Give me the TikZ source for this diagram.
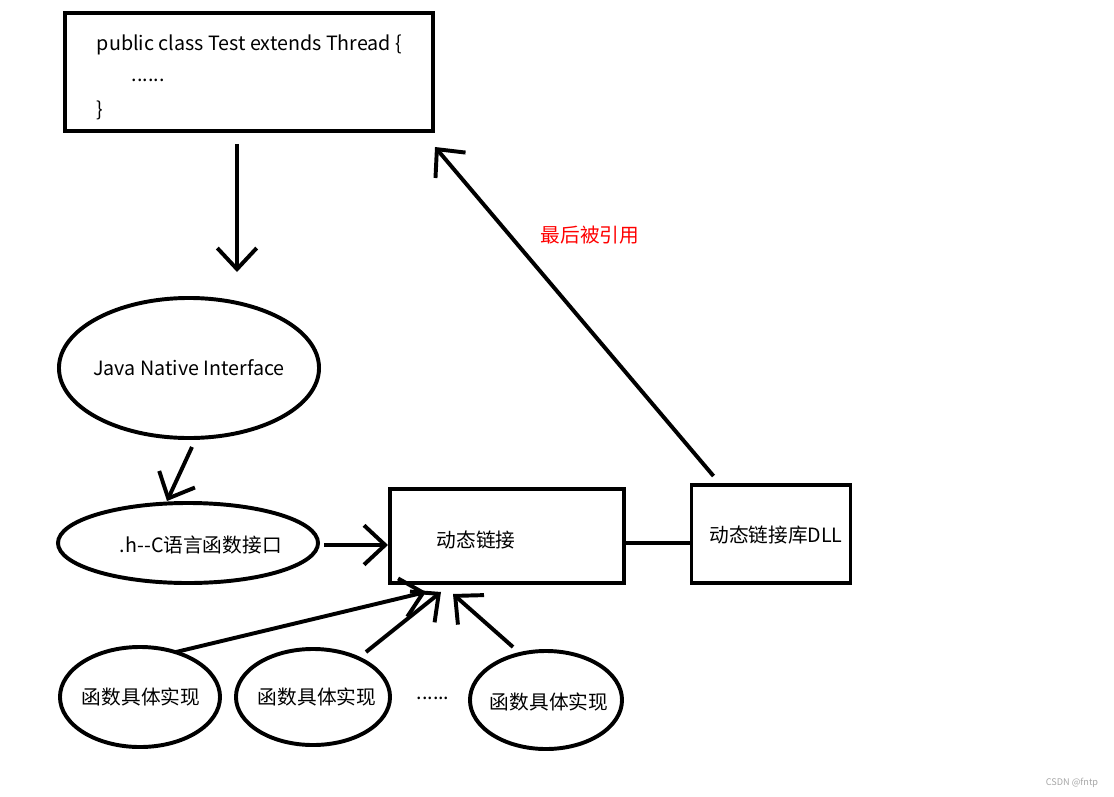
\documentclass[tikz,border=0pt]{standalone}
\usepackage{fontspec}
\setmainfont{Noto Sans CJK SC}
\usetikzlibrary{arrows.meta, shapes.geometric, calc}

\begin{document}
\begin{tikzpicture}[x=0.025cm, y=-0.025cm, line width=2.8pt,
  box/.style={draw, rectangle, line width=2.8pt},
  oval/.style={draw, ellipse, line width=2.8pt, inner sep=0pt},
  barb/.style={-{Straight Barb[length=15pt, width=28pt]}},
  txt/.style={font=\fontsize{14}{16}\selectfont, inner sep=0pt}]
  \useasboundingbox (0,0) rectangle (1114,797);

  % Class box
  \node[box, minimum width=9.2cm, minimum height=2.95cm] (code) at (249,72) {};
  \node[txt, anchor=west] (line1) at (95,45) {public class Test extends Thread \{};
  \node[txt, anchor=west] (line2) at (130,80) {......};
  \node[txt, anchor=west] (line3) at (95,110) {\}};

  % JNI and header
  \node[oval, minimum width=6.5cm, minimum height=3.5cm] (jni) at (189,368) {};
  \node[txt] (jnitext) at (jni) {Java Native Interface};
  \node[oval, minimum width=6.5cm, minimum height=2cm] (hc) at (188,543) {};
  \node[txt, anchor=west] (hctext) at (118,545) {.h-{}-C语言函数接口};

  % Linking boxes
  \node[box, minimum width=5.85cm, minimum height=2.35cm] (link) at (507,536) {};
  \node[txt] (linktext) at (476,540) {动态链接};
  \node[box, minimum width=3.975cm, minimum height=2.45cm] (dll) at (771,534) {};
  \node[txt] (dlltext) at (776,535) {动态链接库DLL};

  % Implementations
  \node[oval, minimum width=4cm, minimum height=2.5cm] (f1) at (140,697) {};
  \node[txt] (f1text) at (141,697) {函数具体实现};
  \node[oval, minimum width=3.85cm, minimum height=2.4cm] (f2) at (313,697) {};
  \node[txt] (f2text) at (317,697) {函数具体实现};
  \node[oval, minimum width=3.8cm, minimum height=2.45cm] (f3) at (546,700) {};
  \node[txt] (f3text) at (549,702) {函数具体实现};
  \node[txt] (more) at (433,698) {......};

  % Connectors
  \coordinate (downend) at (237,272);
  \draw[barb] (downend |- code.south) ++(0,11) -- (downend);
  \draw[barb] ($(jni.south)+(3,7)$) -- ($(hc.north)+(-21,0)$);
  \draw[barb] ($(hc.east)+(4,2)$) -- ($(link.west)+(0,9)$);
  \draw ($(link.east)+(0,7)$) -- ($(dll.west)+(0,9)$);
  \draw[barb] ($(dll.north west)+(24,-7)$) -- ($(code.south east)+(0,14)$);
  \node[txt, text=red] (used) at (590,235) {最后被引用};
  \draw[barb] ($(f1)+(36,-45)$) -- ($(link.south west)+(38,7)$);
  \draw[barb] ($(f2)+(53,-45)$) -- ($(link.south west)+(53,7)$);
  \draw[barb] ($(f3)+(-33,-53)$) -- ($(link.south west)+(65,9)$);

  % Watermark
  \node[font=\fontsize{6.5}{7}\selectfont, text=gray!70] (mark) at (1072,783) {CSDN @fntp};
\end{tikzpicture}
\end{document}
